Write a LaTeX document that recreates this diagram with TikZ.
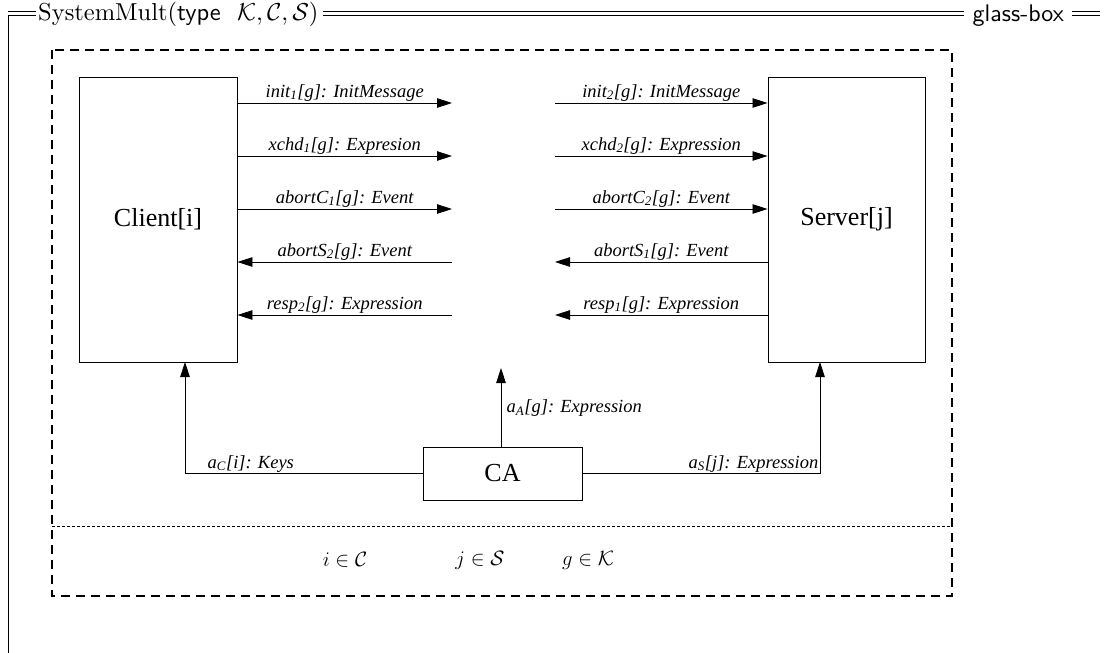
\documentclass[tikz,border=0pt]{standalone}
\usepackage{fontspec}
\newfontfamily\tms{Liberation Serif}
\usetikzlibrary{arrows.meta,calc}
\tikzset{
  box/.style={draw, line width=0.9pt, inner sep=0pt, font=\tms\fontsize{26}{30}\selectfont},
  arr/.style={line width=0.8pt, -{Triangle[length=15pt,width=9.5pt]}},
  lab/.style={font=\tms\itshape\fontsize{18.5}{22}\selectfont, inner sep=1.5pt},
  hdr/.style={line width=0.8pt},
  outerbox/.style={line width=1.1pt, dash pattern=on 9pt off 6pt},
  sepline/.style={line width=0.7pt, dash pattern=on 3pt off 2pt},
  mathlab/.style={font=\fontsize{20}{24}\selectfont, inner sep=0pt}
}
\begin{document}
\begin{tikzpicture}[x=1pt,y=-1pt]
\useasboundingbox (0,0) rectangle (1104,653);
% header
\node[anchor=base west, inner sep=0pt] (title) at (38,20.5)
  {\scalebox{2.45}{\fontsize{10}{12}\selectfont SystemMult(\textsf{type}\ \ $\mathcal{K},\mathcal{C},\mathcal{S}$)}};
\node[anchor=base east, inner sep=0pt] (gb) at (1064,21)
  {\scalebox{2.4}{\fontsize{10}{12}\selectfont\sffamily glass-box}};
\coordinate (tl) at (8,11.5);
\coordinate (bl) at (8,15);
\coordinate (bot) at (8,653);
\draw[hdr] (tl) -- ($(title.west|-tl)+(-2,0)$);
\draw[hdr] (bl) -- ($(title.west|-bl)+(-2,0)$);
\draw[hdr] (bl) -- (bot);
\draw[hdr] ($(title.east|-tl)+(4,0)$) -- ($(gb.west|-tl)+(-8,0)$);
\draw[hdr] ($(title.east|-bl)+(4,0)$) -- ($(gb.west|-bl)+(-8,0)$);
\coordinate (tr) at (1100,11.5);
\coordinate (br) at (1100,15);
\draw[hdr] ($(gb.east|-tl)+(8,0)$) -- (tr);
\draw[hdr] ($(gb.east|-bl)+(8,0)$) -- (br);
% outer dashed box
\draw[outerbox] (52,50) rectangle (952,596);
\draw[sepline] (52,526) -- (952,526);
% boxes
\node[box, minimum width=158pt, minimum height=285pt] (client) at (158,219.5) {Client[i]};
\node[box, minimum width=157pt, minimum height=285pt] (server) at (846.5,219.5) {Server[j]};
\node[box, minimum width=159pt, minimum height=53pt] (ca) at (502.5,473.5) {CA};
% left group
\coordinate (l1) at (452,103);
\coordinate (l2) at (452,156);
\coordinate (l3) at (452,209);
\coordinate (l4) at (452,262);
\coordinate (l5) at (452,315);
\draw[arr] (client.east|-l1) -- (l1) node[lab, midway, above] {init\textsubscript{1}[g]: InitMessage};
\draw[arr] (client.east|-l2) -- (l2) node[lab, midway, above] {xchd\textsubscript{1}[g]: Expresion};
\draw[arr] (client.east|-l3) -- (l3) node[lab, midway, above] {abortC\textsubscript{1}[g]: Event};
\draw[arr] (l4) -- (client.east|-l4) node[lab, midway, above] {abortS\textsubscript{2}[g]: Event};
\draw[arr] (l5) -- (client.east|-l5) node[lab, midway, above] {resp\textsubscript{2}[g]: Expression};
% right group
\coordinate (m1) at (555,103);
\coordinate (m2) at (555,156);
\coordinate (m3) at (555,209);
\coordinate (m4) at (555,262);
\coordinate (m5) at (555,315);
\draw[arr] (m1) -- (server.west|-m1) node[lab, midway, above] {init\textsubscript{2}[g]: InitMessage};
\draw[arr] (m2) -- (server.west|-m2) node[lab, midway, above] {xchd\textsubscript{2}[g]: Expression};
\draw[arr] (m3) -- (server.west|-m3) node[lab, midway, above] {abortC\textsubscript{2}[g]: Event};
\draw[arr] (server.west|-m4) -- (m4) node[lab, midway, above] {abortS\textsubscript{1}[g]: Event};
\draw[arr] (server.west|-m5) -- (m5) node[lab, midway, above] {resp\textsubscript{1}[g]: Expression};
% CA connectors
\coordinate (ck) at (185,362);
\coordinate (aa) at (501,368);
\coordinate (sk) at (820,362);
\draw[arr] (ca.west) -| (ck);
\draw[arr] (ca.north-|aa) -- (aa);
\draw[arr] (ca.east) -| (sk);
\node[lab, anchor=south west] (lc) at (206,474) {a\textsubscript{C}[i]: Keys};
\node[lab, anchor=west] (la) at (505,408) {a\textsubscript{A}[g]: Expression};
\node[lab, anchor=south east] (ls) at (820,474) {a\textsubscript{S}[j]: Expression};
% compartment
\node[mathlab] (ii) at (345,560) {$i \in \mathcal{C}$};
\node[mathlab] (jj) at (480,560) {$j \in \mathcal{S}$};
\node[mathlab] (gg) at (588,560) {$g \in \mathcal{K}$};
\end{tikzpicture}
\end{document}
